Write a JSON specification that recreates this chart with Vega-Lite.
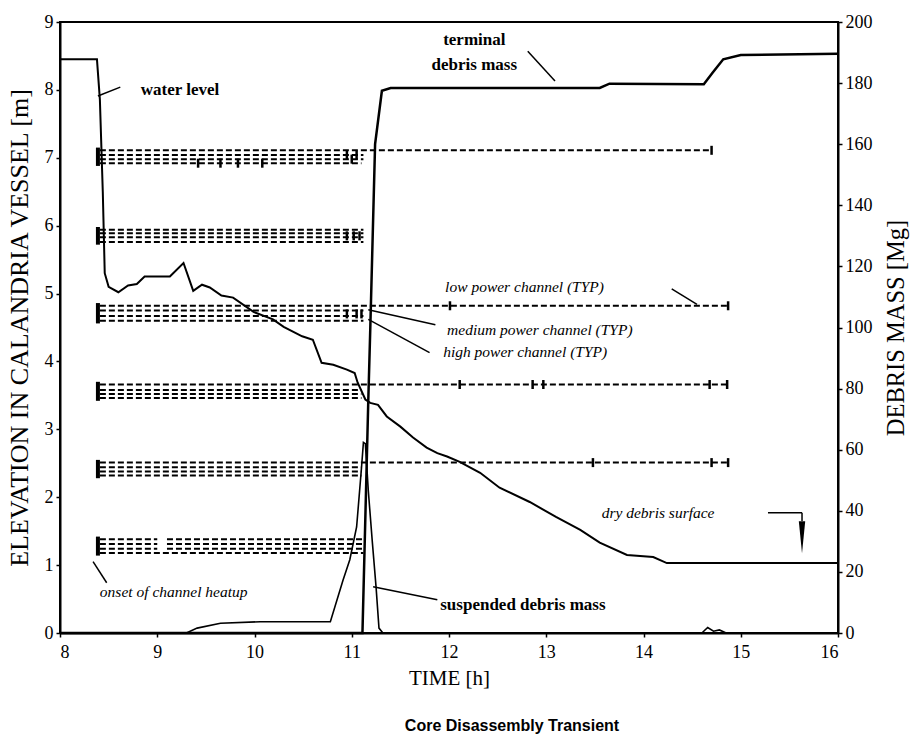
{
  "$schema": "https://vega.github.io/schema/vega-lite/v6.json",
  "width": 778,
  "height": 611,
  "autosize": {"type": "none"},
  "padding": {"left": 60, "top": 22, "right": 74, "bottom": 101},
  "background": "white",
  "config": {
    "view": {"stroke": "black", "strokeWidth": 2},
    "axis": {
      "domainColor": "black", "domainWidth": 2, "tickColor": "black", "tickWidth": 1.5, "tickSize": 4,
      "labelFont": "Liberation Serif", "labelFontSize": 18, "labelColor": "black",
      "titleFont": "Liberation Serif", "titleFontSize": 21, "titleFontWeight": "normal", "titleColor": "black",
      "grid": false
    }
  },
  "title": {
    "text": "Core Disassembly Transient", "orient": "bottom", "anchor": "middle",
    "font": "Liberation Sans", "fontSize": 16, "fontWeight": "bold", "color": "black",
    "dx": 63, "offset": 30
  },
  "datasets": {
    "water": [
      {"t": 8.0, "e": 8.45}, {"t": 8.38, "e": 8.45}, {"t": 8.41, "e": 7.86}, {"t": 8.44, "e": 6.5},
      {"t": 8.46, "e": 5.3}, {"t": 8.5, "e": 5.1}, {"t": 8.6, "e": 5.02}, {"t": 8.7, "e": 5.12},
      {"t": 8.79, "e": 5.14}, {"t": 8.87, "e": 5.25}, {"t": 9.13, "e": 5.25}, {"t": 9.27, "e": 5.45},
      {"t": 9.37, "e": 5.04}, {"t": 9.46, "e": 5.13}, {"t": 9.54, "e": 5.09}, {"t": 9.66, "e": 4.97},
      {"t": 9.78, "e": 4.94}, {"t": 9.99, "e": 4.73}, {"t": 10.19, "e": 4.62}, {"t": 10.3, "e": 4.51},
      {"t": 10.49, "e": 4.37}, {"t": 10.6, "e": 4.32}, {"t": 10.69, "e": 3.98}, {"t": 10.81, "e": 3.95},
      {"t": 10.95, "e": 3.88}, {"t": 11.03, "e": 3.83}, {"t": 11.06, "e": 3.69}, {"t": 11.14, "e": 3.44},
      {"t": 11.19, "e": 3.39}, {"t": 11.27, "e": 3.36}, {"t": 11.36, "e": 3.19}, {"t": 11.5, "e": 3.04},
      {"t": 11.63, "e": 2.88}, {"t": 11.77, "e": 2.73}, {"t": 11.88, "e": 2.65}, {"t": 11.98, "e": 2.6},
      {"t": 12.11, "e": 2.52}, {"t": 12.32, "e": 2.36}, {"t": 12.52, "e": 2.14}, {"t": 12.83, "e": 1.93},
      {"t": 13.1, "e": 1.71}, {"t": 13.35, "e": 1.52}, {"t": 13.55, "e": 1.33}, {"t": 13.83, "e": 1.15},
      {"t": 14.1, "e": 1.12}, {"t": 14.24, "e": 1.03}, {"t": 16.0, "e": 1.03}
    ],
    "terminal": [
      {"t": 8.0, "m": 0}, {"t": 11.11, "m": 0}, {"t": 11.17, "m": 76}, {"t": 11.19, "m": 99},
      {"t": 11.24, "m": 160}, {"t": 11.31, "m": 177.5}, {"t": 11.4, "m": 178.4}, {"t": 13.55, "m": 178.4},
      {"t": 13.65, "m": 179.8}, {"t": 14.62, "m": 179.6}, {"t": 14.71, "m": 183.4}, {"t": 14.82, "m": 187.8},
      {"t": 15.0, "m": 189.2}, {"t": 16.0, "m": 189.6}
    ],
    "suspended": [
      {"t": 8.0, "m": 0}, {"t": 9.3, "m": 0}, {"t": 9.41, "m": 1.6}, {"t": 9.65, "m": 3.2},
      {"t": 10.06, "m": 3.7}, {"t": 10.78, "m": 3.7}, {"t": 10.91, "m": 17.3}, {"t": 10.98, "m": 24},
      {"t": 11.05, "m": 34.7}, {"t": 11.1, "m": 54}, {"t": 11.12, "m": 62.4}, {"t": 11.14, "m": 62},
      {"t": 11.17, "m": 46.7}, {"t": 11.21, "m": 30.4}, {"t": 11.25, "m": 15}, {"t": 11.28, "m": 1.6},
      {"t": 11.32, "m": 0}, {"t": 14.6, "m": 0}, {"t": 14.66, "m": 1.8}, {"t": 14.72, "m": 0.6},
      {"t": 14.78, "m": 1.0}, {"t": 14.85, "m": 0}, {"t": 16.0, "m": 0}
    ],
    "channels": [
      {"t1": 8.41, "t2": 14.7, "e": 7.11}, {"t1": 8.41, "t2": 11.12, "e": 7.04}, {"t1": 8.41, "t2": 11.12, "e": 6.98}, {"t1": 8.41, "t2": 11.1, "e": 6.92},
      {"t1": 8.41, "t2": 11.12, "e": 5.94}, {"t1": 8.41, "t2": 11.12, "e": 5.89}, {"t1": 8.41, "t2": 11.12, "e": 5.83}, {"t1": 8.41, "t2": 11.12, "e": 5.76},
      {"t1": 8.41, "t2": 14.87, "e": 4.82}, {"t1": 8.41, "t2": 11.12, "e": 4.75}, {"t1": 8.41, "t2": 11.12, "e": 4.67}, {"t1": 8.41, "t2": 11.12, "e": 4.6},
      {"t1": 8.41, "t2": 14.87, "e": 3.66}, {"t1": 8.41, "t2": 11.1, "e": 3.58}, {"t1": 8.41, "t2": 11.1, "e": 3.52}, {"t1": 8.41, "t2": 11.1, "e": 3.46},
      {"t1": 8.41, "t2": 14.87, "e": 2.51}, {"t1": 8.41, "t2": 11.1, "e": 2.44}, {"t1": 8.41, "t2": 11.1, "e": 2.38}, {"t1": 8.41, "t2": 11.1, "e": 2.32},
      {"t1": 8.41, "t2": 9.0, "e": 1.38}, {"t1": 9.1, "t2": 11.12, "e": 1.38}, {"t1": 8.41, "t2": 9.0, "e": 1.31}, {"t1": 9.1, "t2": 11.12, "e": 1.31},
      {"t1": 8.41, "t2": 9.0, "e": 1.24}, {"t1": 9.1, "t2": 11.12, "e": 1.24}, {"t1": 8.41, "t2": 11.12, "e": 1.18}
    ],
    "bars": [
      {"t": 8.39, "e1": 6.88, "e2": 7.15}, {"t": 8.39, "e1": 5.72, "e2": 5.98}, {"t": 8.39, "e1": 4.56, "e2": 4.86},
      {"t": 8.39, "e1": 3.42, "e2": 3.7}, {"t": 8.39, "e1": 2.28, "e2": 2.55}, {"t": 8.39, "e1": 1.14, "e2": 1.42}
    ],
    "markers": [
      {"t": 9.42, "e": 6.92}, {"t": 9.65, "e": 6.92}, {"t": 9.83, "e": 6.92}, {"t": 10.08, "e": 6.92},
      {"t": 10.95, "e": 7.04}, {"t": 11.0, "e": 6.98}, {"t": 11.05, "e": 7.04}, {"t": 14.7, "e": 7.11},
      {"t": 10.95, "e": 5.85}, {"t": 11.02, "e": 5.85}, {"t": 11.08, "e": 5.85},
      {"t": 10.95, "e": 4.7}, {"t": 11.05, "e": 4.7}, {"t": 11.1, "e": 4.7}, {"t": 12.01, "e": 4.82}, {"t": 14.87, "e": 4.82},
      {"t": 12.11, "e": 3.66}, {"t": 12.86, "e": 3.66}, {"t": 12.97, "e": 3.66}, {"t": 14.68, "e": 3.66}, {"t": 14.86, "e": 3.66},
      {"t": 13.48, "e": 2.51}, {"t": 14.7, "e": 2.51}, {"t": 14.87, "e": 2.51}
    ],
    "boldLeft": [
      {"t": 8.83, "e": 8.0, "label": "water level"},
      {"t": 11.91, "e": 0.41, "label": "suspended debris mass"}
    ],
    "boldCenter": [
      {"t": 12.26, "e": 8.73, "label": "terminal"},
      {"t": 12.26, "e": 8.37, "label": "debris mass"}
    ],
    "italicLabels": [
      {"t": 11.96, "e": 5.1, "label": "low power channel (TYP)"},
      {"t": 11.98, "e": 4.47, "label": "medium power channel (TYP)"},
      {"t": 11.94, "e": 4.14, "label": "high power channel (TYP)"},
      {"t": 13.57, "e": 1.77, "label": "dry debris surface"},
      {"t": 8.41, "e": 0.6, "label": "onset of channel heatup"}
    ],
    "leaders": [
      {"t1": 8.39, "e1": 7.91, "t2": 8.62, "e2": 8.04},
      {"t1": 12.81, "e1": 8.57, "t2": 13.09, "e2": 8.13},
      {"t1": 14.29, "e1": 5.07, "t2": 14.55, "e2": 4.84},
      {"t1": 11.17, "e1": 4.76, "t2": 11.86, "e2": 4.54},
      {"t1": 11.17, "e1": 4.62, "t2": 11.8, "e2": 4.13},
      {"t1": 8.34, "e1": 1.05, "t2": 8.48, "e2": 0.74},
      {"t1": 11.22, "e1": 0.68, "t2": 11.88, "e2": 0.49},
      {"t1": 15.28, "e1": 1.77, "t2": 15.63, "e2": 1.77},
      {"t1": 15.63, "e1": 1.77, "t2": 15.63, "e2": 1.65}
    ],
    "arrow": [{"t": 15.63, "e": 1.41}]
  },
  "layer": [
    {
      "data": {"name": "water"},
      "mark": {"type": "line", "color": "black", "strokeWidth": 2},
      "encoding": {
        "x": {"field": "t", "type": "quantitative", "scale": {"domain": [8, 16], "nice": false},
              "axis": {"title": "TIME [h]", "values": [8, 9, 10, 11, 12, 13, 14, 15, 16], "format": "d", "labelPadding": 6, "titlePadding": 6}},
        "y": {"field": "e", "type": "quantitative", "scale": {"domain": [0, 9], "nice": false},
              "axis": {"title": "ELEVATION IN CALANDRIA VESSEL [m]", "values": [0, 1, 2, 3, 4, 5, 6, 7, 8, 9], "format": "d", "labelPadding": 3, "titlePadding": 12, "titleFontSize": 26}}
      }
    },
    {
      "data": {"name": "terminal"},
      "mark": {"type": "line", "color": "black", "strokeWidth": 2.5},
      "encoding": {
        "x": {"field": "t", "type": "quantitative", "scale": {"domain": [8, 16], "nice": false}},
        "y": {"field": "m", "type": "quantitative", "scale": {"domain": [0, 200], "nice": false},
              "axis": {"orient": "right", "title": "DEBRIS MASS [Mg]", "values": [0, 20, 40, 60, 80, 100, 120, 140, 160, 180, 200], "format": "d", "labelPadding": 3, "titlePadding": 12, "titleAngle": 270, "titleBaseline": "top", "titleFontSize": 24.5}}
      }
    },
    {
      "data": {"name": "suspended"},
      "mark": {"type": "line", "color": "black", "strokeWidth": 1.6},
      "encoding": {
        "x": {"field": "t", "type": "quantitative", "scale": {"domain": [8, 16], "nice": false}},
        "y": {"field": "m", "type": "quantitative", "scale": {"domain": [0, 200], "nice": false}, "axis": null}
      }
    },
    {
      "data": {"name": "channels"},
      "mark": {"type": "rule", "color": "black", "strokeWidth": 2, "strokeDash": [6, 3]},
      "encoding": {
        "x": {"field": "t1", "type": "quantitative", "scale": {"domain": [8, 16], "nice": false}},
        "x2": {"field": "t2"},
        "y": {"field": "e", "type": "quantitative", "scale": {"domain": [0, 9], "nice": false}, "axis": null}
      }
    },
    {
      "data": {"name": "bars"},
      "mark": {"type": "rule", "color": "black", "strokeWidth": 4},
      "encoding": {
        "x": {"field": "t", "type": "quantitative", "scale": {"domain": [8, 16], "nice": false}},
        "y": {"field": "e1", "type": "quantitative", "scale": {"domain": [0, 9], "nice": false}, "axis": null},
        "y2": {"field": "e2"}
      }
    },
    {
      "data": {"name": "markers"},
      "mark": {"type": "tick", "color": "black", "orient": "vertical", "size": 9, "thickness": 2.5, "opacity": 1},
      "encoding": {
        "x": {"field": "t", "type": "quantitative", "scale": {"domain": [8, 16], "nice": false}},
        "y": {"field": "e", "type": "quantitative", "scale": {"domain": [0, 9], "nice": false}, "axis": null}
      }
    },
    {
      "data": {"name": "leaders"},
      "mark": {"type": "rule", "color": "black", "strokeWidth": 1.5},
      "encoding": {
        "x": {"field": "t1", "type": "quantitative", "scale": {"domain": [8, 16], "nice": false}},
        "x2": {"field": "t2"},
        "y": {"field": "e1", "type": "quantitative", "scale": {"domain": [0, 9], "nice": false}, "axis": null},
        "y2": {"field": "e2"}
      }
    },
    {
      "data": {"name": "arrow"},
      "mark": {"type": "point", "shape": "M-0.2,-1L0.2,-1L0,1Z", "filled": true, "color": "black", "size": 1024, "opacity": 1},
      "encoding": {
        "x": {"field": "t", "type": "quantitative", "scale": {"domain": [8, 16], "nice": false}},
        "y": {"field": "e", "type": "quantitative", "scale": {"domain": [0, 9], "nice": false}, "axis": null}
      }
    },
    {
      "data": {"name": "boldLeft"},
      "mark": {"type": "text", "font": "Liberation Serif", "fontSize": 17, "fontWeight": "bold", "color": "black", "baseline": "middle", "align": "left"},
      "encoding": {
        "x": {"field": "t", "type": "quantitative", "scale": {"domain": [8, 16], "nice": false}},
        "y": {"field": "e", "type": "quantitative", "scale": {"domain": [0, 9], "nice": false}, "axis": null},
        "text": {"field": "label"}
      }
    },
    {
      "data": {"name": "boldCenter"},
      "mark": {"type": "text", "font": "Liberation Serif", "fontSize": 17, "fontWeight": "bold", "color": "black", "baseline": "middle", "align": "center"},
      "encoding": {
        "x": {"field": "t", "type": "quantitative", "scale": {"domain": [8, 16], "nice": false}},
        "y": {"field": "e", "type": "quantitative", "scale": {"domain": [0, 9], "nice": false}, "axis": null},
        "text": {"field": "label"}
      }
    },
    {
      "data": {"name": "italicLabels"},
      "mark": {"type": "text", "font": "Liberation Serif", "fontSize": 15.5, "fontStyle": "italic", "color": "black", "baseline": "middle", "align": "left"},
      "encoding": {
        "x": {"field": "t", "type": "quantitative", "scale": {"domain": [8, 16], "nice": false}},
        "y": {"field": "e", "type": "quantitative", "scale": {"domain": [0, 9], "nice": false}, "axis": null},
        "text": {"field": "label"}
      }
    }
  ],
  "resolve": {"scale": {"y": "independent"}, "axis": {"y": "independent"}}
}
